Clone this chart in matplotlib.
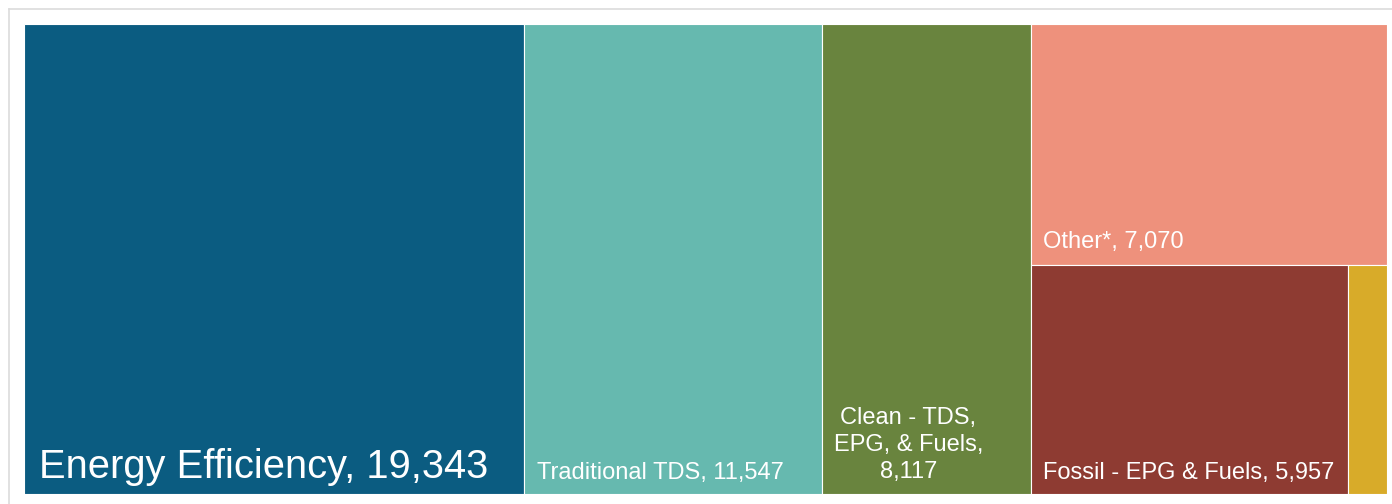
import matplotlib.pyplot as plt
from matplotlib.patches import Rectangle
from matplotlib.lines import Line2D

plt.rcParams['font.family'] = ['Liberation Sans', 'DejaVu Sans']

# values (yellow box has no label in the picture, value estimated)
labels = ["Energy Efficiency", "Traditional TDS", "Clean - TDS,\nEPG, & Fuels,",
          "Other*", "Fossil - EPG & Fuels", ""]
values = [19343, 11547, 8117, 7070, 5957, 740]
colors = ["#0b5c81", "#66b9af", "#69843e", "#ee917c", "#8e3b32", "#d8ab29"]

W, H = 1392, 504
fig = plt.figure(figsize=(W / 100, H / 100), dpi=100)
ax = fig.add_axes([24 / W, 10 / H, 1363 / W, 470 / H])
ax.set_xlim(0, 1)
ax.set_ylim(0, 1)
ax.axis('off')

# light frame round the chart area
fig.add_artist(Line2D([9 / W, 1], [1 - 9 / H, 1 - 9 / H], color="#dcdcdc", lw=1.2))
fig.add_artist(Line2D([9 / W, 9 / W], [0, 1 - 9 / H], color="#dcdcdc", lw=1.2))

total = sum(values)
rects = []
# first three: full-height columns
x = 0.0
for v in values[:3]:
    w = v / total
    rects.append((x, 0.0, w, 1.0))
    x += w
# rest: one column, "Other" on top, the last two side by side below
rest = values[3:]
cw = 1.0 - x
rsum = sum(rest)
h_top = rest[0] / rsum
rects.append((x, 1.0 - h_top, cw, h_top))
bsum = sum(rest[1:])
bx = x
for v in rest[1:]:
    w = cw * v / bsum
    rects.append((bx, 0.0, w, 1.0 - h_top))
    bx += w

for (rx, ry, rw, rh), c in zip(rects, colors):
    ax.add_patch(Rectangle((rx, ry), rw, rh, facecolor=c, edgecolor="white", lw=0.8))

def put(i, size, dx, dy, **kw):
    rx, ry, rw, rh = rects[i]
    txt = labels[i] + ("\n" if "\n" in labels[i] else ", ") + f"{values[i]:,}"
    ax.annotate(txt, (rx, ry), xytext=(dx, dy), textcoords='offset pixels',
                color="white", fontsize=size, ha='left', va='baseline', **kw)

put(0, 28.7, 15, 16)
put(1, 17, 13, 15)
put(2, 17, 12, 16, multialignment='center', linespacing=1.28)
put(3, 17, 12, 17)
put(4, 17, 12, 15)

fig.savefig("out.png", dpi=100)
